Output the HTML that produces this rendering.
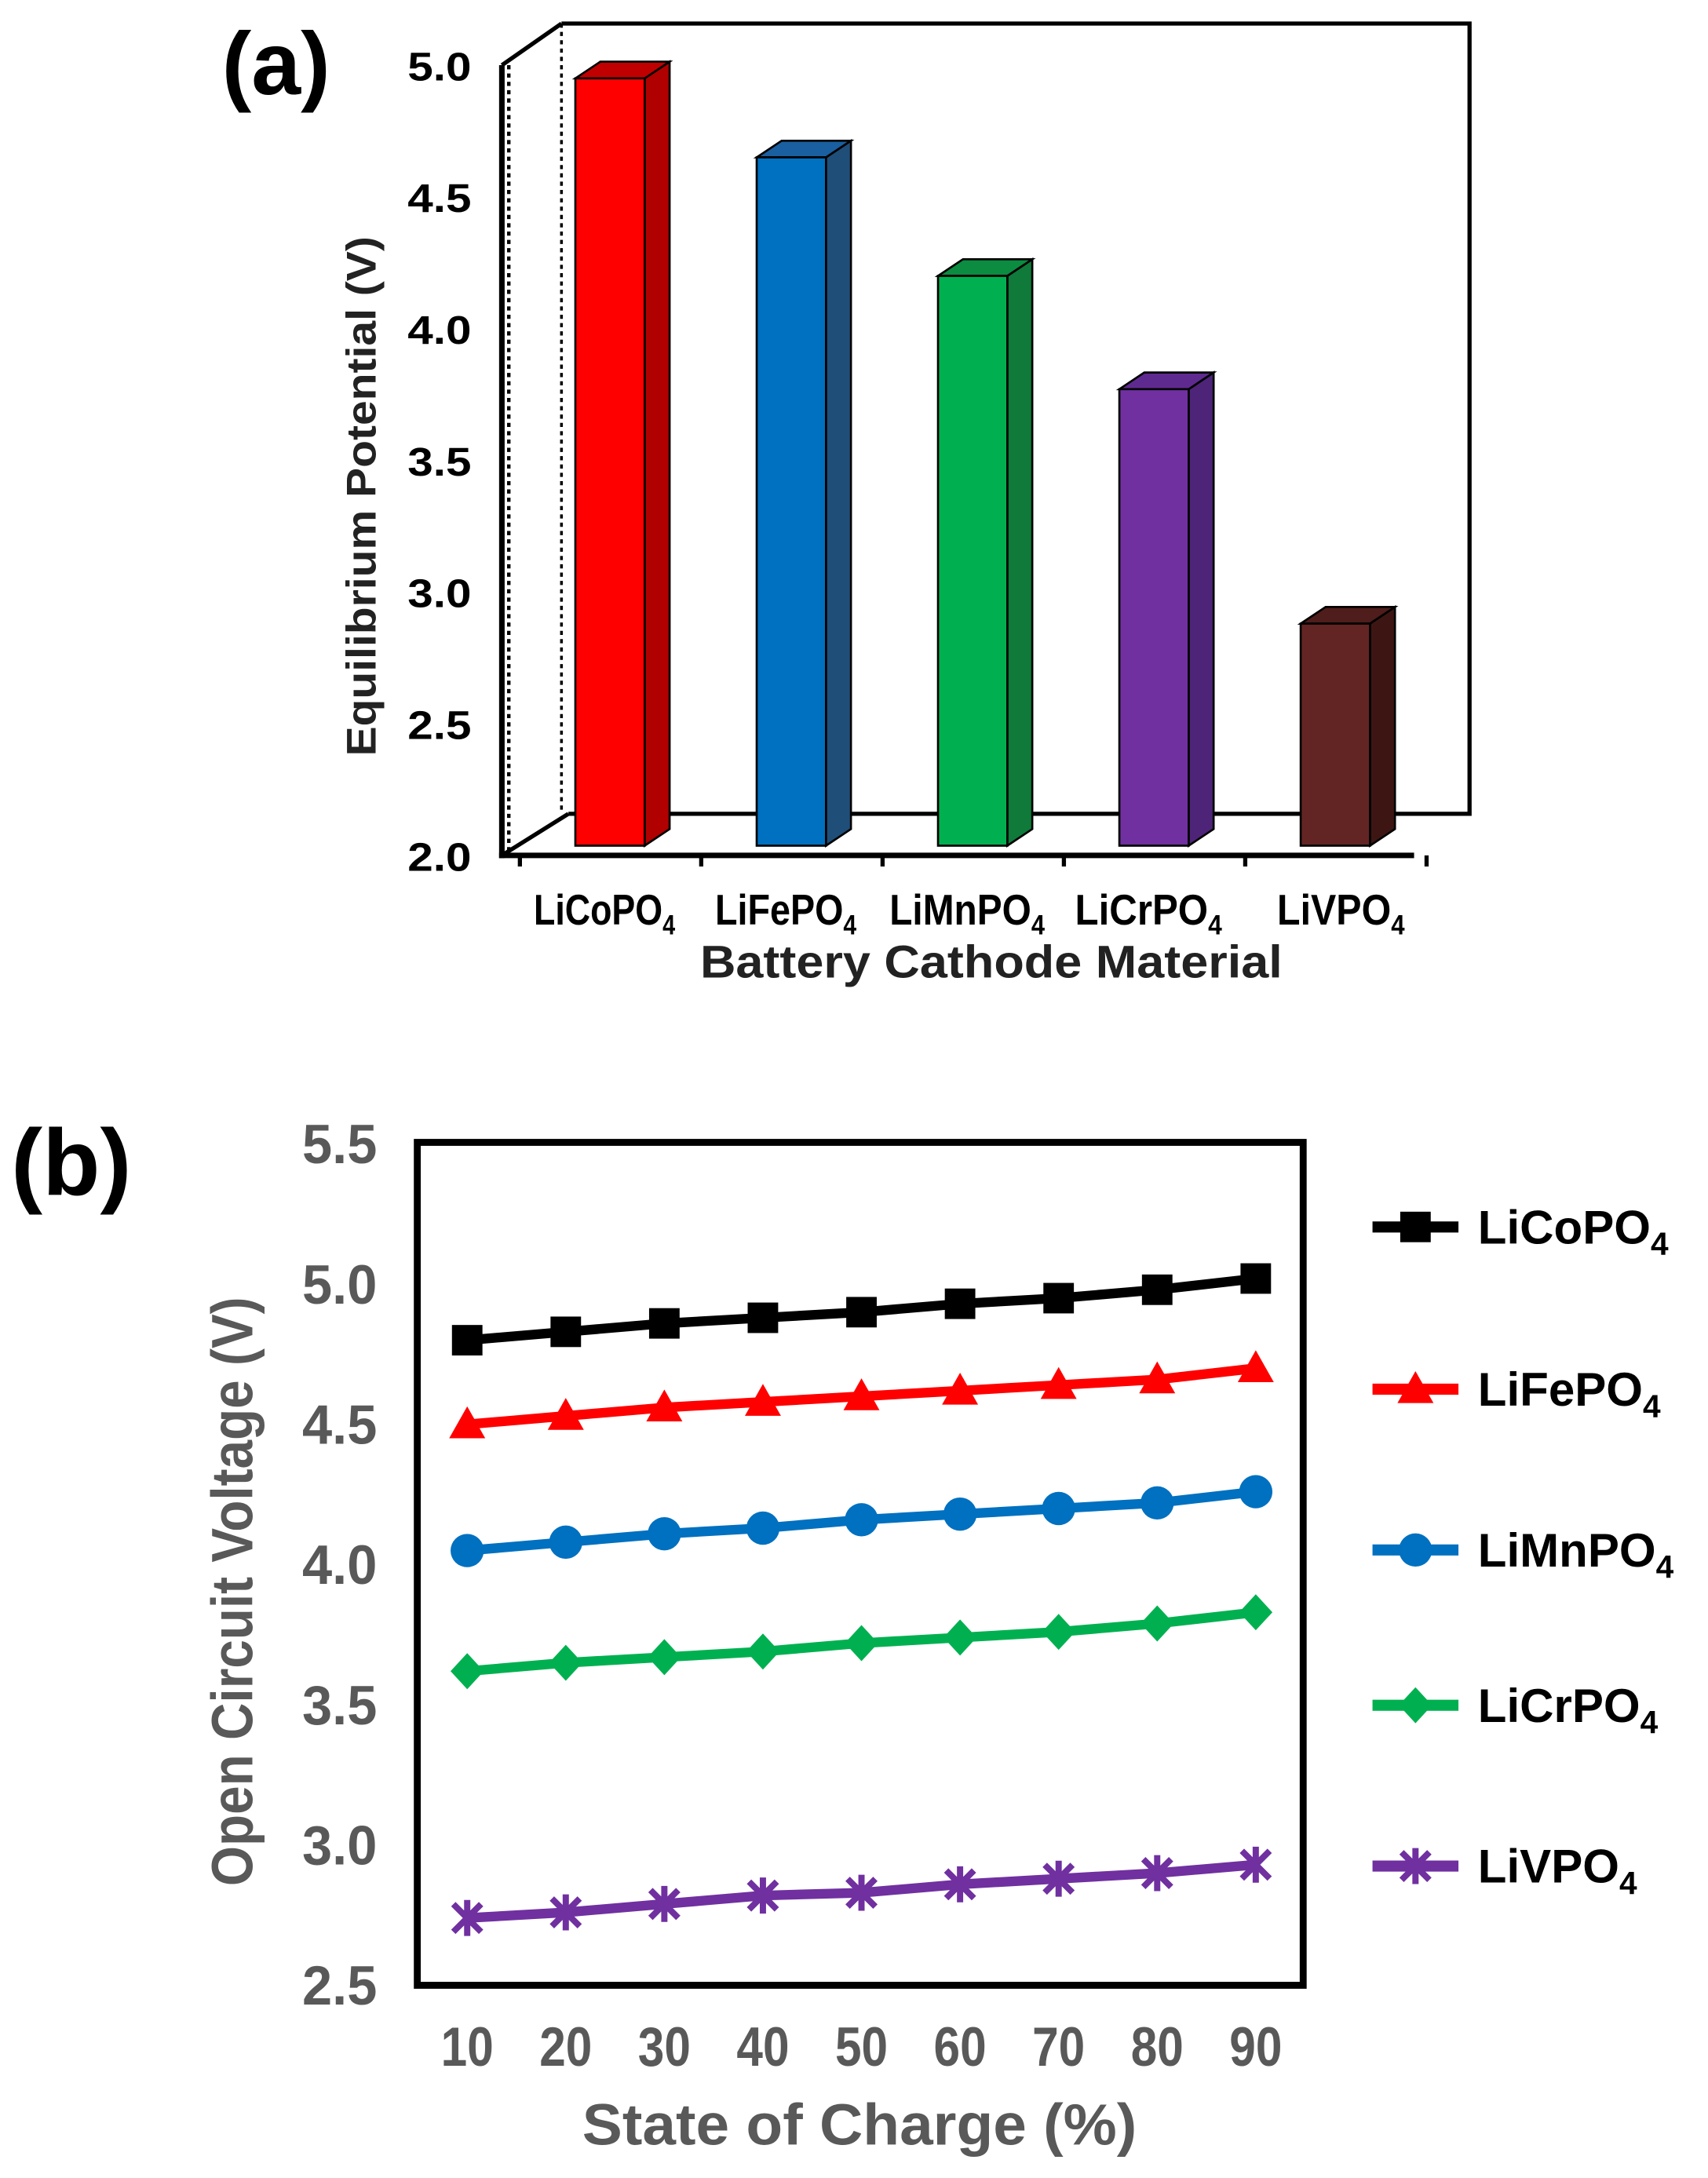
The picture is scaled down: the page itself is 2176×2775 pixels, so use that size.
<!DOCTYPE html>
<html><head><meta charset="utf-8">
<style>
html,body{margin:0;padding:0;background:#fff;}
svg{display:block;}
text{font-family:"Liberation Sans",Arial,sans-serif;font-weight:bold;}
</style></head>
<body>
<svg id="fig" width="2176" height="2775" viewBox="0 0 1232 1571" preserveAspectRatio="none" xmlns="http://www.w3.org/2000/svg">
<g id="pa"></g>
<g id="pb"></g>
</svg>
<script>
// ---------- Panel (a) data ----------
const barCategories = ["LiCoPO", "LiFePO", "LiMnPO", "LiCrPO", "LiVPO"];
const barValues = [4.95, 4.65, 4.2, 3.77, 2.88];
const barTicks = [2.0, 2.5, 3.0, 3.5, 4.0, 4.5, 5.0];
// ---------- Panel (b) data ----------
const socCategories = [10, 20, 30, 40, 50, 60, 70, 80, 90];
const seriesNames = ["LiCoPO", "LiFePO", "LiMnPO", "LiCrPO", "LiVPO"];
const coValues = [4.80, 4.83, 4.86, 4.88, 4.90, 4.93, 4.95, 4.98, 5.02];
const feValues = [4.50, 4.53, 4.56, 4.58, 4.60, 4.62, 4.64, 4.66, 4.70];
const mnValues = [4.05, 4.08, 4.11, 4.13, 4.16, 4.18, 4.20, 4.22, 4.26];
const crValues = [3.62, 3.65, 3.67, 3.69, 3.72, 3.74, 3.76, 3.79, 3.83];
const vValues = [2.74, 2.76, 2.79, 2.82, 2.83, 2.86, 2.88, 2.90, 2.93];
const lineTicks = [2.5, 3.0, 3.5, 4.0, 4.5, 5.0, 5.5];

const NS = "http://www.w3.org/2000/svg";
function mk(parent, tag, attrs, txt) {
  const e = document.createElementNS(NS, tag);
  for (const k in attrs) e.setAttribute(k, attrs[k]);
  if (txt !== undefined) e.textContent = txt;
  parent.appendChild(e);
  return e;
}
function sub(el, base, s, size) {
  el.textContent = base;
  const t = document.createElementNS(NS, "tspan");
  t.setAttribute("font-size", size);
  t.setAttribute("dy", size * 0.35);
  t.textContent = s;
  el.appendChild(t);
}

// ================= Panel A =================
const pa = document.getElementById("pa");
const ya = v => 617 - (v - 2.0) * 190;
const xa = i => 440 + i * 130.8;

let e = mk(pa, "text", {x: 160, y: 68, "font-size": 64}, "(a)");



e = mk(pa, "path", {d: "M405 17 H1060 V587 H410", fill: "none", stroke: "#000", "stroke-width": 3});


e = mk(pa, "line", {x1: 405, y1: 17, x2: 405, y2: 587, stroke: "#000", "stroke-width": 2, "stroke-dasharray": "3,3"});


e = mk(pa, "path", {d: "M362 47 L405 17 M362 617 L410 587", fill: "none", stroke: "#000", "stroke-width": 3});


e = mk(pa, "line", {x1: 367, y1: 47, x2: 367, y2: 617, stroke: "#000", "stroke-width": 2.5, "stroke-dasharray": "3,3"});


e = mk(pa, "line", {x1: 362, y1: 47, x2: 362, y2: 619, stroke: "#000", "stroke-width": 4});


e = mk(pa, "line", {x1: 360, y1: 617, x2: 1020, y2: 617, stroke: "#000", "stroke-width": 4});


for (let i = 0; i <= barCategories.length; i++) {
  const tx = 375 + i * 130.8;
  e = mk(pa, "line", {x1: tx, y1: 617, x2: tx, y2: 625, stroke: "#000", "stroke-width": 3});
  
  
}
barTicks.forEach(v => {
  e = mk(pa, "text", {x: 340, y: ya(v) + 11, "font-size": 29, "text-anchor": "end", textLength: 46, lengthAdjust: "spacingAndGlyphs"}, v.toFixed(1));
  
  
});
const barFront = ["#ff0000", "#0070c0", "#00b050", "#7030a0", "#632523"];
const barSide = ["#b00000", "#1f4e79", "#0f7a3a", "#4e2478", "#3d1614"];
const barTop = ["#c00000", "#1a5fa0", "#0b8c40", "#5f2a90", "#4f1d1b"];
const labelW = [102, 102, 112, 106, 92];
barValues.forEach((v, i) => {
  const cx = xa(i), w = 50, x0 = cx - w / 2, top = ya(v), bot = 610, dx = 18, dy = 12;
  const g = mk(pa, "g", {});
  
  
  mk(g, "path", {d: `M${x0+w} ${top} L${x0+w+dx} ${top-dy} L${x0+w+dx} ${bot-dy} L${x0+w} ${bot} Z`, fill: barSide[i], stroke: "#000", "stroke-width": 1.5});
  mk(g, "path", {d: `M${x0} ${top} L${x0+dx} ${top-dy} L${x0+w+dx} ${top-dy} L${x0+w} ${top} Z`, fill: barTop[i], stroke: "#000", "stroke-width": 1.5});
  mk(g, "rect", {x: x0, y: top, width: w, height: bot - top, fill: barFront[i], stroke: "#000", "stroke-width": 1.5});
  const t = mk(pa, "text", {x: cx - 4 + (i === 4 ? 8 : 0), y: 667, "font-size": 31, "text-anchor": "middle", textLength: labelW[i], lengthAdjust: "spacingAndGlyphs"});
  sub(t, barCategories[i], "4", 20);
  
  
});
e = mk(pa, "text", {x: 715, y: 705, "font-size": 33, "text-anchor": "middle", fill: "#222", textLength: 420, lengthAdjust: "spacingAndGlyphs"}, "Battery Cathode Material");


e = mk(pa, "text", {x: 0, y: 0, "font-size": 30, "text-anchor": "middle", transform: "translate(271,358) rotate(-90)", fill: "#222", textLength: 375, lengthAdjust: "spacingAndGlyphs"}, "Equilibrium Potential (V)");



// ================= Panel B =================
const pb = document.getElementById("pb");
const yb = v => 1432 - (v - 2.5) * 202.3;
const xb = s => 337 + (s - 10) / 10 * 71.1;

e = mk(pb, "text", {x: 8, y: 862, "font-size": 68}, "(b)");


e = mk(pb, "rect", {x: 301, y: 824, width: 639, height: 608, fill: "none", stroke: "#000", "stroke-width": 5});


lineTicks.forEach(v => {
  e = mk(pb, "text", {x: 272, y: yb(v) + 14, "font-size": 40, "text-anchor": "end", fill: "#595959", textLength: 54, lengthAdjust: "spacingAndGlyphs"}, v.toFixed(1));
  
  
});
socCategories.forEach(s => {
  e = mk(pb, "text", {x: xb(s), y: 1490, "font-size": 40, "text-anchor": "middle", fill: "#595959", textLength: 38, lengthAdjust: "spacingAndGlyphs"}, String(s));
  
  
});
e = mk(pb, "text", {x: 620, y: 1547, "font-size": 42, "text-anchor": "middle", fill: "#595959", textLength: 400, lengthAdjust: "spacingAndGlyphs"}, "State of Charge (%)");


e = mk(pb, "text", {x: 0, y: 0, "font-size": 42, "text-anchor": "middle", fill: "#595959", transform: "translate(182,1148) rotate(-90)", textLength: 425, lengthAdjust: "spacingAndGlyphs"}, "Open Circuit Voltage (V)");



const allSeries = [coValues, feValues, mnValues, crValues, vValues];
const colors = ["#000000", "#ff0000", "#0070c0", "#00b050", "#7030a0"];
const markers = ["square", "triangle", "circle", "diamond", "star"];
const legendY = [885, 1002, 1118, 1230, 1346];

function marker(g, type, x, y, c) {
  if (type === "square") mk(g, "rect", {x: x - 11, y: y - 11, width: 22, height: 22, fill: c});
  else if (type === "triangle") mk(g, "path", {d: `M${x} ${y-13} L${x+13} ${y+10} L${x-13} ${y+10} Z`, fill: c});
  else if (type === "circle") mk(g, "circle", {cx: x, cy: y, r: 12, fill: c});
  else if (type === "diamond") mk(g, "path", {d: `M${x} ${y-13} L${x+12} ${y} L${x} ${y+13} L${x-12} ${y} Z`, fill: c});
  else {
    mk(g, "path", {d: `M${x-10} ${y-10} L${x+10} ${y+10} M${x+10} ${y-10} L${x-10} ${y+10} M${x} ${y-13} L${x} ${y+13}`, stroke: c, "stroke-width": 4.5});
  }
}
allSeries.forEach((vals, si) => {
  const g = mk(pb, "g", {});
  
  
  const pts = vals.map((v, i) => `${xb(socCategories[i])},${yb(v)}`).join(" ");
  mk(g, "polyline", {points: pts, fill: "none", stroke: colors[si], "stroke-width": 7, "stroke-linejoin": "round"});
  vals.forEach((v, i) => marker(g, markers[si], xb(socCategories[i]), yb(v), colors[si]));
  const lg = mk(pb, "g", {});
  
  
  mk(lg, "line", {x1: 990, y1: legendY[si], x2: 1052, y2: legendY[si], stroke: colors[si], "stroke-width": 8});
  marker(lg, markers[si], 1021, legendY[si], colors[si]);
  const t = mk(lg, "text", {x: 1066, y: legendY[si] + 12, "font-size": 34});
  sub(t, seriesNames[si], "4", 23);
});
</script>
</body></html>
